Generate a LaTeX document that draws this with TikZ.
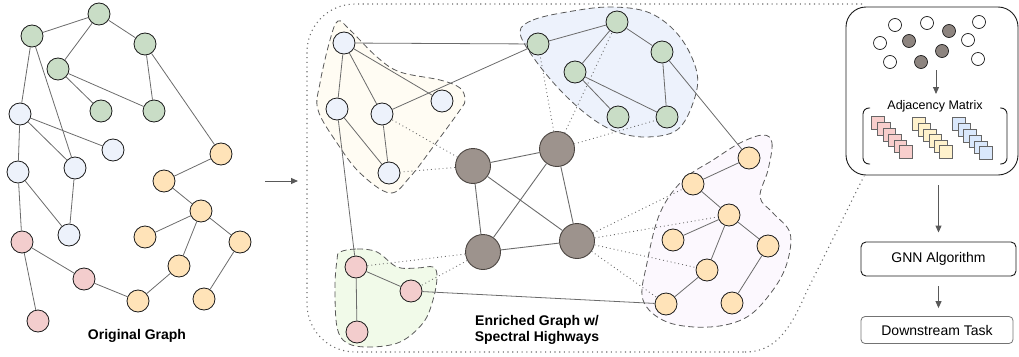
\documentclass[tikz,border=0pt]{standalone}
\usepackage{fontspec}
\setmainfont{Liberation Sans}
\usetikzlibrary{arrows.meta}
\definecolor{edgec}{HTML}{6B6B6B}
\definecolor{bord}{HTML}{1A1A1A}
\definecolor{greenn}{HTML}{C9DDC6}
\definecolor{bluen}{HTML}{EDF2FB}
\definecolor{pinkn}{HTML}{F3CDCD}
\definecolor{orangen}{HTML}{FFE3B8}
\definecolor{grayn}{HTML}{9D938D}
\definecolor{grayb}{HTML}{4A4440}
\definecolor{yblob}{HTML}{FFFCF3}
\definecolor{bblob}{HTML}{EDF2FC}
\definecolor{gblob}{HTML}{F1FAE9}
\definecolor{pblob}{HTML}{FCF8FE}
\definecolor{sqpink}{HTML}{F8CECC}
\definecolor{sqyel}{HTML}{FFF2CC}
\definecolor{sqblue}{HTML}{DAE8FC}
\begin{document}
\begin{tikzpicture}[x=1pt,y=-1pt,
  vtx/.style={circle,draw=bord,line width=0.8pt,minimum size=22pt,inner sep=0pt},
  gv/.style={vtx,fill=greenn},
  bv/.style={vtx,fill=bluen},
  rv/.style={vtx,fill=pinkn},
  ov/.style={vtx,fill=orangen},
  pv/.style={circle,draw=grayb,line width=0.9pt,minimum size=35pt,inner sep=0pt,fill=grayn},
  sv/.style={circle,draw=bord,line width=0.7pt,minimum size=13pt,inner sep=0pt,fill=white},
  sgv/.style={sv,fill=grayn!90!black},
  ed/.style={draw=edgec,line width=0.8pt},
  hw/.style={draw=edgec,line width=1.1pt,dash pattern=on 1.1pt off 3.6pt},
  cluster/.style={draw=black!65,line width=0.8pt,dash pattern=on 6pt off 3.5pt},
  sq/.style={draw=black!60,line width=0.6pt,minimum size=12.5pt,inner sep=0pt},
  arr/.style={draw=black!65,line width=1pt,-{Triangle[length=7pt,width=6pt]}},
  lbl/.style={font=\fontsize{14}{16}\selectfont\bfseries,align=center}
]
\useasboundingbox (0,0) rectangle (1019,356);

% ---------- Enclosure (dotted zoom outline)
\draw[hw,rounded corners=48] (862,4) -- (307,4) -- (307,352) -- (745,352);
\draw[hw] (745,352) .. controls (775,352) and (790,330) .. (806,293) -- (864,176);

% ---------- Clusters
\draw[cluster,fill=yblob] plot[smooth cycle,tension=0.6] coordinates {(338,21) (350,30) (377,57) (400,72) (440,80) (460,88) (465,100) (460,110) (433,147) (410,177) (390,193) (360,173) (337,143) (318,110) (320,83) (330,40)};
\draw[cluster,fill=bblob] plot[smooth cycle,tension=0.6] coordinates {(520,32) (533,20) (567,12) (610,7) (650,13) (680,37) (697,73) (693,103) (677,130) (647,137) (617,132) (590,117) (560,90) (533,57)};
\draw[cluster,fill=gblob] plot[smooth cycle,tension=0.6] coordinates {(340,252) (357,249) (377,252) (397,267) (417,268) (433,267) (437,277) (433,300) (423,323) (400,342) (370,347) (347,343) (337,327) (335,287) (337,260)};
\draw[cluster,fill=pblob] plot[smooth cycle,tension=0.6] coordinates {(763,135) (772,143) (768,170) (760,197) (773,213) (790,233) (787,263) (773,290) (747,317) (710,327) (667,322) (643,300) (647,263) (660,213) (683,180) (713,160) (740,143)};

% ---------- Original graph nodes
\node[gv] (lg1) at (99,14) {};
\node[gv] (lg2) at (32,36) {};
\node[gv] (lg3) at (145,44) {};
\node[gv] (lg4) at (58,69) {};
\node[gv] (lg5) at (101,111) {};
\node[gv] (lg6) at (154,111) {};
\node[bv] (lb1) at (20,114) {};
\node[bv] (lb2) at (113,150) {};
\node[bv] (lb3) at (18,172) {};
\node[bv] (lb4) at (75,168) {};
\node[bv] (lb5) at (69,235) {};
\node[rv] (lr1) at (22,242) {};
\node[rv] (lr2) at (84,279) {};
\node[rv] (lr3) at (38,321) {};
\node[ov] (lo1) at (221,154) {};
\node[ov] (lo2) at (164,181) {};
\node[ov] (lo3) at (201,211) {};
\node[ov] (lo4) at (145,237) {};
\node[ov] (lo5) at (240,242) {};
\node[ov] (lo6) at (179,266) {};
\node[ov] (lo7) at (138,301) {};
\node[ov] (lo8) at (204,299) {};

\foreach \a/\b in {lg2/lg1,lg1/lg3,lg1/lg4,lg2/lb1,lg2/lb4,lg4/lg5,lg4/lg6,lg3/lg6,lg3/lo1,
  lb1/lb2,lb1/lb4,lb1/lb3,lb3/lr1,lb3/lb5,lb4/lb5,
  lo1/lo2,lo2/lo3,lo3/lo4,lo3/lo5,lo3/lo6,lo6/lo7,lo5/lo8,
  lr1/lr2,lr1/lr3,lr2/lo7}
  \draw[ed] (\a) -- (\b);

\node[lbl] (lab1) at (137,336) {Original Graph};

% ---------- arrow between
\coordinate (ar1) at (265,181);
\coordinate (ar2) at (298,181);
\draw[arr] (ar1) -- (ar2);

% ---------- Enriched graph nodes
\node[bv] (mw1) at (344,43) {};
\node[bv] (mw2) at (337,109) {};
\node[bv] (mw3) at (382,114) {};
\node[bv] (mw4) at (442,101) {};
\node[bv] (mw5) at (389,173) {};
\node[gv] (mg1) at (538,44) {};
\node[gv] (mg2) at (617,22) {};
\node[gv] (mg3) at (662,52) {};
\node[gv] (mg4) at (575,72) {};
\node[gv] (mg5) at (618,117) {};
\node[gv] (mg6) at (667,117) {};
\node[pv] (mp1) at (473,166) {};
\node[pv] (mp2) at (557,149) {};
\node[pv] (mp3) at (483,252) {};
\node[pv] (mp4) at (577,241) {};
\node[rv] (mr1) at (356,267) {};
\node[rv] (mr2) at (411,291) {};
\node[rv] (mr3) at (357,332) {};
\node[ov] (mo1) at (749,158) {};
\node[ov] (mo2) at (693,184) {};
\node[ov] (mo3) at (729,215) {};
\node[ov] (mo4) at (673,240) {};
\node[ov] (mo5) at (768,246) {};
\node[ov] (mo6) at (707,270) {};
\node[ov] (mo7) at (666,304) {};
\node[ov] (mo8) at (732,303) {};

\foreach \a/\b in {mw1/mg1,mw3/mg1,mw1/mw2,mw1/mw3,mw1/mw4,mw2/mw5,mw3/mw5,mw2/mr1,
  mg1/mg2,mg2/mg3,mg2/mg4,mg4/mg5,mg4/mg6,mg3/mg6,mg3/mo1,
  mr1/mr2,mr1/mr3,mr2/mo7,
  mo1/mo2,mo2/mo3,mo3/mo4,mo3/mo5,mo3/mo6,mo6/mo7,mo5/mo8}
  \draw[ed] (\a) -- (\b);
\foreach \a/\b in {mp1/mp2,mp1/mp3,mp1/mp4,mp2/mp3,mp2/mp4,mp3/mp4}
  \draw[ed,line width=0.9pt] (\a) -- (\b);
\foreach \a/\b in {mp1/mw3,mp1/mw5,mp2/mg1,mp2/mg2,mp2/mg6,mp3/mr1,mp3/mr2,
  mp4/mo2,mp4/mo3,mp4/mo6,mp4/mo7}
  \draw[hw,line width=0.9pt,dash pattern=on 0.9pt off 3pt] (\a) -- (\b);

\node[lbl] (lab2) at (537,330) {Enriched Graph w/\\Spectral Highways};

% ---------- Right panel
\node[draw=bord,line width=0.9pt,rounded corners=20pt,minimum width=172pt,minimum height=168pt,inner sep=0pt] (panel) at (932,91) {};
\node[sv] (s1) at (895,25) {};
\node[sv] (s2) at (927,23) {};
\node[sv] (s3) at (979,22) {};
\node[sv] (s4) at (880,43) {};
\node[sv] (s5) at (968,40) {};
\node[sv] (s6) at (890,62) {};
\node[sv] (s7) at (978,59) {};
\node[sgv] (s8) at (909,41) {};
\node[sgv] (s9) at (949,31) {};
\node[sgv] (s10) at (942,51) {};
\node[sgv] (s11) at (921,62) {};
\coordinate (pa1) at (936,70);
\coordinate (pa2) at (936,94);
\draw[arr] (pa1) -- (pa2);
\node[font=\fontsize{12.5}{14}\selectfont] (adj) at (935,106) {Adjacency Matrix};
\draw[draw=bord,line width=0.9pt,rounded corners=6pt] (870,108) -- (863,108) -- (863,164) -- (870,164);
\draw[draw=bord,line width=0.9pt,rounded corners=6pt] (1000,108) -- (1007,108) -- (1007,164) -- (1000,164);
\foreach \i in {0,...,5} {
  \node[sq,fill=sqpink] (pk\i) at ({878+5.6*\i},{123+5.8*\i}) {};
  \node[sq,fill=sqyel] (yl\i) at ({919+5.4*\i},{124+5.6*\i}) {};
  \node[sq,fill=sqblue] (bl\i) at ({959+5.4*\i},{124+5.8*\i}) {};
}

\node[draw=bord,line width=0.9pt,rounded corners=5pt,minimum width=155pt,minimum height=34pt,font=\fontsize{14}{16}\selectfont] (gnn) at (938.5,259) {GNN Algorithm};
\node[draw=black!55,line width=0.8pt,rounded corners=4pt,minimum width=152pt,minimum height=27pt,font=\fontsize{14}{16}\selectfont] (down) at (937,330) {Downstream Task};
\draw[arr,shorten <=10pt,shorten >=9pt] (panel.south -| gnn.north) -- (gnn.north);
\draw[arr,shorten <=10pt,shorten >=8pt] (gnn.south) -- (gnn.south |- down.north);
\end{tikzpicture}
\end{document}
